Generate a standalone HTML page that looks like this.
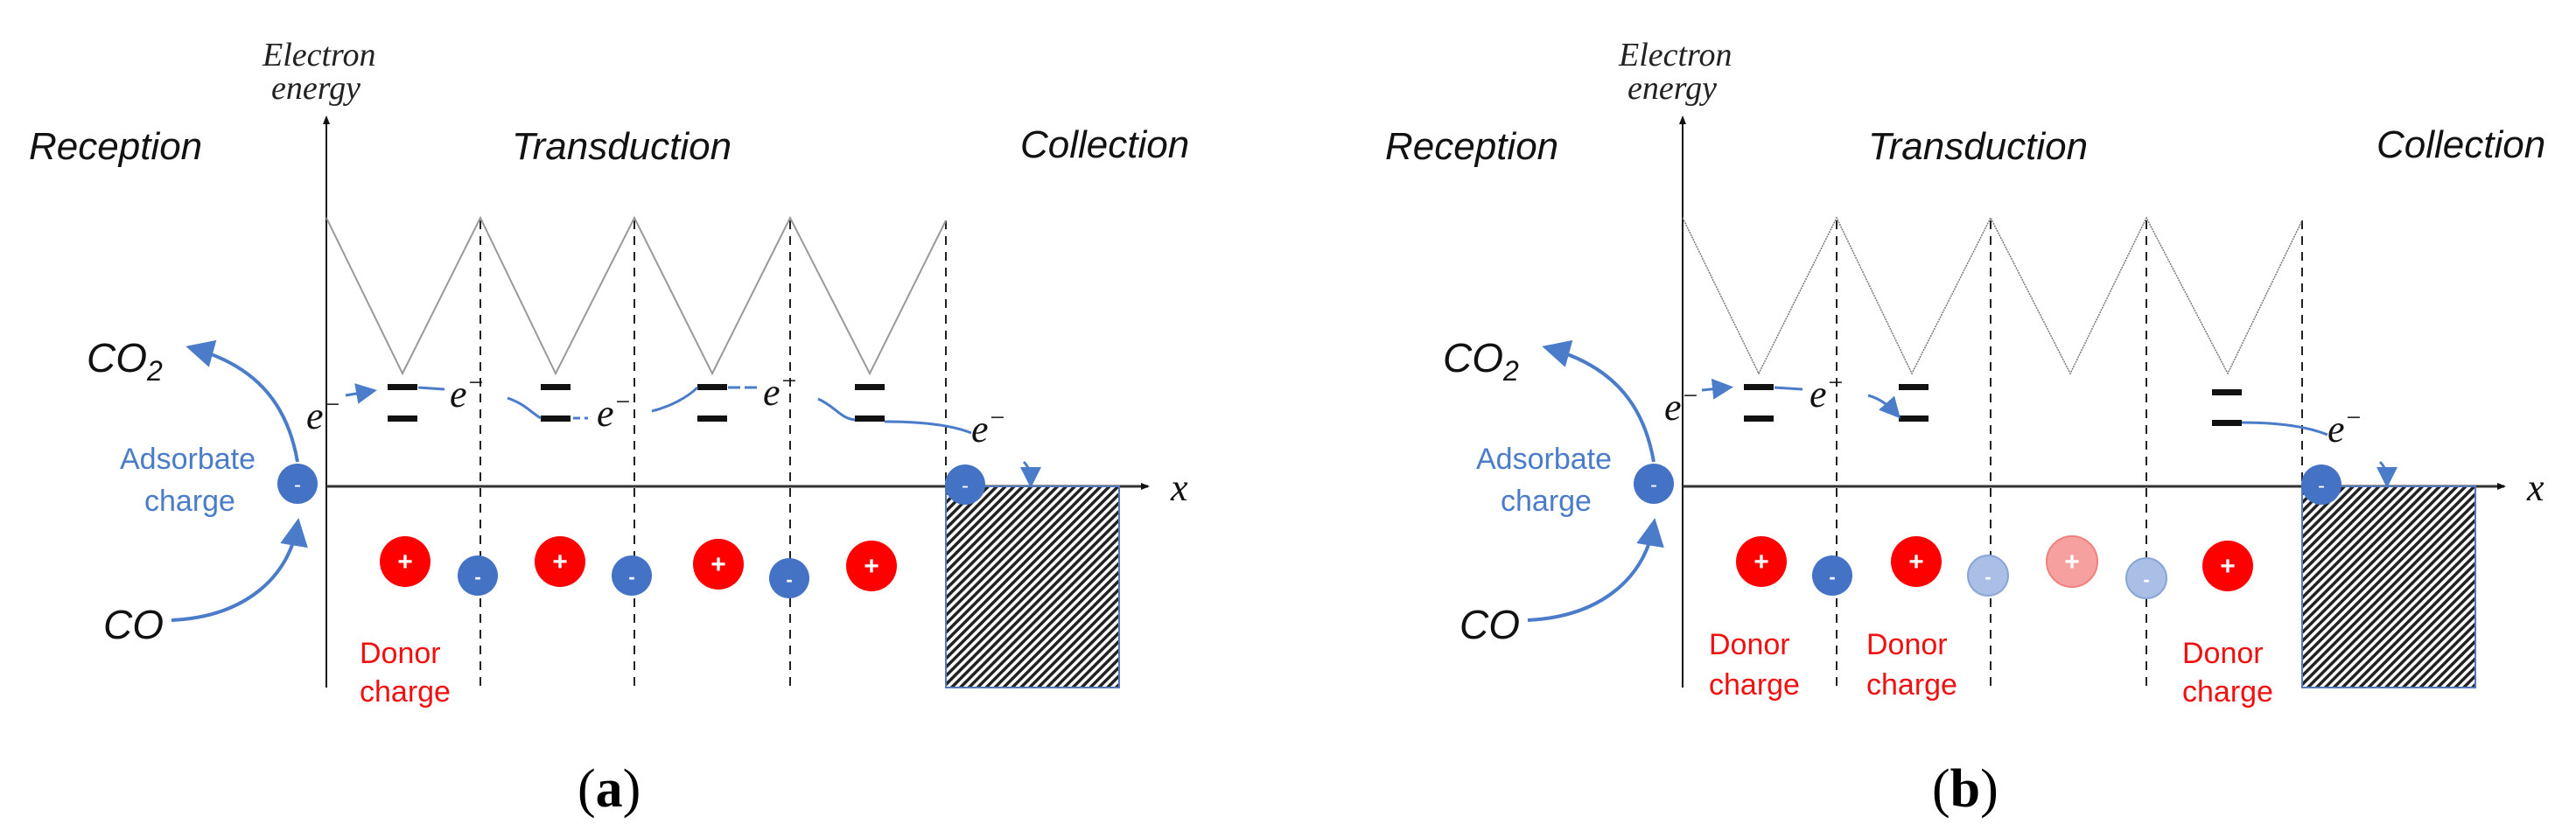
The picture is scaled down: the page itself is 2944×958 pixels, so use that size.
<!DOCTYPE html>
<html><head><meta charset="utf-8"><style>
html,body{margin:0;padding:0;background:#fff;}
svg{display:block;}
.lbl{font-family:"Liberation Sans",sans-serif;font-style:italic;font-size:44px;fill:#111;}
.ee{font-family:"Liberation Serif",serif;font-style:italic;font-size:38px;fill:#222;}
.chem{font-family:"Liberation Sans",sans-serif;font-style:italic;font-size:46px;fill:#111;}
.e{font-family:"Liberation Serif",serif;font-style:italic;font-size:44px;fill:#111;}
.blue{font-family:"Liberation Sans",sans-serif;font-size:34px;fill:#4a7cc9;}
.red{font-family:"Liberation Sans",sans-serif;font-size:34px;fill:#f01010;}
.cap{font-family:"Liberation Serif",serif;font-size:62px;fill:#000;}
</style></head><body>
<svg width="2944" height="958" viewBox="0 0 2944 958" xmlns="http://www.w3.org/2000/svg">
<defs>
<pattern id="h" width="7" height="7" patternUnits="userSpaceOnUse" patternTransform="rotate(45)">
<rect width="7" height="7" fill="#fff"/><rect width="3.5" height="7" fill="#222"/>
</pattern>
<marker id="ah" markerWidth="8" markerHeight="8" refX="6" refY="4" orient="auto" markerUnits="strokeWidth"><path d="M0,0 L8,4 L0,8 z" fill="#4a7cc9"/></marker>
<marker id="ak" markerWidth="10" markerHeight="10" refX="8" refY="5" orient="auto" markerUnits="userSpaceOnUse"><path d="M0,1 L10,5 L0,9 z" fill="#111"/></marker>
<g id="common">
<text class="ee" x="300" y="75">Electron</text>
<text class="ee" x="310" y="113">energy</text>
<text class="lbl" x="33" y="182">Reception</text>
<text class="lbl" x="585" y="182">Transduction</text>
<text class="lbl" x="1166" y="180">Collection</text>
<line x1="373" y1="786" x2="373" y2="134" stroke="#111" stroke-width="2" marker-end="url(#ak)"/>
<line x1="373" y1="556" x2="1312" y2="556" stroke="#333" stroke-width="3" marker-end="url(#ak)"/>
<text class="e" x="1338" y="572">x</text>
<g stroke="#222" stroke-width="2" stroke-dasharray="10,8">
<line x1="549" y1="252" x2="549" y2="786"/><line x1="725" y1="252" x2="725" y2="786"/>
<line x1="903" y1="252" x2="903" y2="786"/><line x1="1081" y1="252" x2="1081" y2="786"/>
</g>
<rect x="1081" y="556" width="198" height="230" fill="url(#h)" stroke="#5577bb" stroke-width="2"/>
<text class="chem" x="99" y="425">CO<tspan font-size="32" dy="10">2</tspan></text>
<text class="chem" x="118" y="730">CO</text>
<path d="M340,528 C330,470 300,420 220,398" fill="none" stroke="#4a7cc9" stroke-width="4" marker-end="url(#ah)"/>
<path d="M196,709 C280,705 330,660 340,600" fill="none" stroke="#4a7cc9" stroke-width="4" marker-end="url(#ah)"/>
<text class="blue" x="137" y="536">Adsorbate</text>
<text class="blue" x="165" y="584">charge</text>
<circle cx="340" cy="553" r="23" fill="#4472c4"/><text x="340" y="562" text-anchor="middle" font-family="Liberation Sans" font-size="24" fill="#fff">-</text>
<circle cx="1103" cy="554" r="23" fill="#4472c4"/><text x="1103" y="563" text-anchor="middle" font-family="Liberation Sans" font-size="24" fill="#fff">-</text>
<text class="e" x="1110" y="505">e<tspan font-size="30" dy="-18">−</tspan></text>
<path d="M1170,528 C1178,536 1178,545 1178,552" fill="none" stroke="#4a7cc9" stroke-width="3" marker-end="url(#ah)"/>
</g>
</defs>

<!-- Panel a -->
<use href="#common"/>
<text class="cap" x="660" y="922">(<tspan font-weight="bold">a</tspan>)</text>
<polyline points="373,249 460,427 549,249 635,427 725,249 814,427 903,249 994,427 1081,252" fill="none" stroke="#999" stroke-width="2"/>
<g fill="#111">
<rect x="443" y="439" width="34" height="7"/><rect x="443" y="475" width="34" height="7"/>
<rect x="618" y="439" width="34" height="7"/><rect x="618" y="475" width="34" height="7"/>
<rect x="797" y="439" width="34" height="7"/><rect x="797" y="475" width="34" height="7"/>
<rect x="977" y="439" width="34" height="7"/><rect x="977" y="475" width="34" height="7"/>
</g>
<text class="e" x="350" y="490">e<tspan font-size="30" dy="-18">−</tspan></text>
<text class="e" x="514" y="465">e<tspan font-size="30" dy="-18">−</tspan></text>
<text class="e" x="682" y="487">e<tspan font-size="30" dy="-18">−</tspan></text>
<text class="e" x="872" y="463">e<tspan font-size="30" dy="-18">−</tspan></text>
<g fill="none" stroke="#4a7cc9" stroke-width="3">
<path d="M395,452 L425,447" marker-end="url(#ah)"/>
<path d="M478,443 L508,445"/>
<path d="M580,455 C600,462 605,470 618,478"/><path d="M655,478 L672,478" stroke-dasharray="8,5"/>
<path d="M745,470 C765,465 785,455 797,443"/><path d="M832,443 L865,443" stroke-dasharray="14,5"/>
<path d="M935,456 C955,465 960,478 977,480"/>
<path d="M1011,482 C1050,482 1085,485 1110,495"/>
</g>
<g font-family="Liberation Sans" font-size="30" font-weight="bold" fill="#fff" text-anchor="middle">
<circle cx="463" cy="642" r="29" fill="#f00"/><text x="463" y="652">+</text>
<circle cx="640" cy="642" r="29" fill="#f00"/><text x="640" y="652">+</text>
<circle cx="821" cy="645" r="29" fill="#f00"/><text x="821" y="655">+</text>
<circle cx="996" cy="647" r="29" fill="#f00"/><text x="996" y="657">+</text>
<circle cx="546" cy="658" r="23" fill="#4472c4"/><text x="546" y="667" font-size="22">-</text>
<circle cx="722" cy="658" r="23" fill="#4472c4"/><text x="722" y="667" font-size="22">-</text>
<circle cx="902" cy="661" r="23" fill="#4472c4"/><text x="902" y="670" font-size="22">-</text>
</g>
<text class="red" x="411" y="758">Donor</text>
<text class="red" x="411" y="802">charge</text>

<!-- Panel b -->
<g transform="translate(1550,0)">
<use href="#common"/>
<text class="cap" x="658" y="922">(<tspan font-weight="bold">b</tspan>)</text>
<polyline points="373,249 460,427 549,249 635,427 725,249 816,427 903,249 996,427 1081,252" fill="none" stroke="#777" stroke-width="1.5" stroke-dasharray="2,1"/>
<g fill="#111">
<rect x="443" y="439" width="34" height="7"/><rect x="443" y="475" width="34" height="7"/>
<rect x="620" y="439" width="34" height="7"/><rect x="620" y="475" width="34" height="7"/>
<rect x="978" y="445" width="34" height="7"/><rect x="978" y="480" width="34" height="7"/>
</g>
<text class="e" x="352" y="480">e<tspan font-size="30" dy="-18">−</tspan></text>
<text class="e" x="518" y="465">e<tspan font-size="30" dy="-18">−</tspan></text>
<g fill="none" stroke="#4a7cc9" stroke-width="3">
<path d="M395,446 L425,443" marker-end="url(#ah)"/>
<path d="M478,443 L510,445"/>
<path d="M585,452 C600,456 610,465 618,474" marker-end="url(#ah)"/>
<path d="M1012,483 C1050,483 1085,487 1110,497"/>
</g>
<g font-family="Liberation Sans" font-size="30" font-weight="bold" fill="#fff" text-anchor="middle">
<circle cx="463" cy="642" r="29" fill="#f00"/><text x="463" y="652">+</text>
<circle cx="640" cy="642" r="29" fill="#f00"/><text x="640" y="652">+</text>
<circle cx="818" cy="642" r="29" fill="#f6a0a0" stroke="#f08080" stroke-width="2"/><text x="818" y="652">+</text>
<circle cx="996" cy="647" r="29" fill="#f00"/><text x="996" y="657">+</text>
<circle cx="544" cy="658" r="23" fill="#4472c4"/><text x="544" y="667" font-size="22">-</text>
<circle cx="722" cy="658" r="23" fill="#a9bfe6" stroke="#8aa5d8" stroke-width="2"/><text x="722" y="667" font-size="22">-</text>
<circle cx="903" cy="661" r="23" fill="#a9bfe6" stroke="#8aa5d8" stroke-width="2"/><text x="903" y="670" font-size="22">-</text>
</g>
<text class="red" x="403" y="748">Donor</text>
<text class="red" x="403" y="794">charge</text>
<text class="red" x="583" y="748">Donor</text>
<text class="red" x="583" y="794">charge</text>
<text class="red" x="944" y="758">Donor</text>
<text class="red" x="944" y="802">charge</text>
</g>
</svg>
</body></html>
